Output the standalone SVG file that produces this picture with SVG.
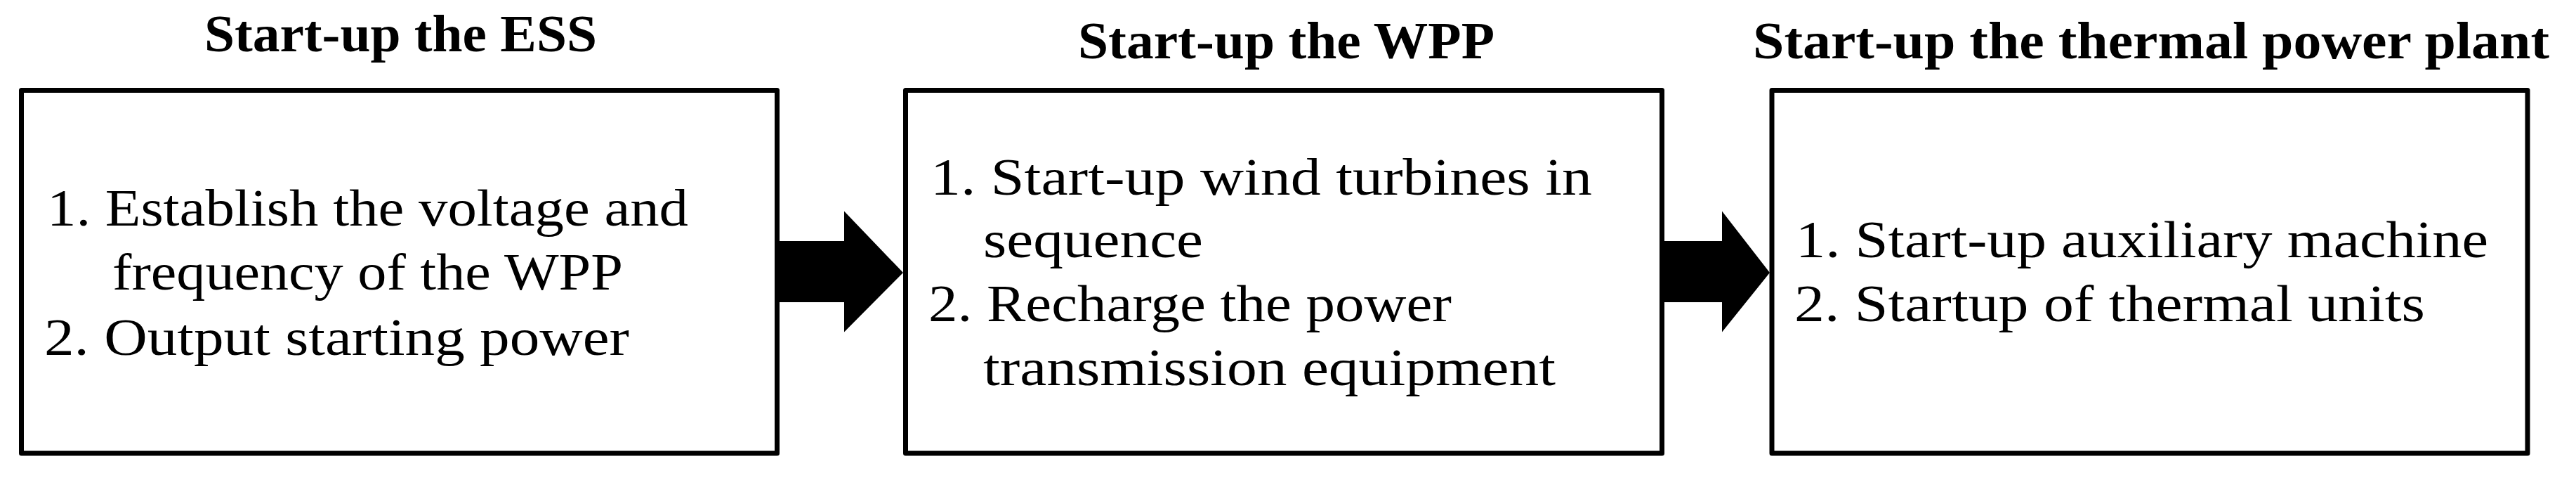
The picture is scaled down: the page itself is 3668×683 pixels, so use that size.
<svg xmlns="http://www.w3.org/2000/svg" width="3668" height="683" viewBox="0 0 3668 683">
<style>
.box{fill:#ffffff;stroke:#000000;stroke-width:7;stroke-linejoin:round}
.title{font-family:"Liberation Serif","Times New Roman",serif;font-weight:bold;font-size:74px;fill:#000000}
.body{font-family:"Liberation Serif","Times New Roman",serif;font-size:73px;fill:#000000}
.arrow{fill:#000000;stroke:none}
</style>
<rect width="3668" height="683" fill="#ffffff"/>
<g id="node-ess">
<rect class="box" x="30.5" y="128.5" width="1076" height="516.5"/>
<text class="title" x="291" y="72.5" textLength="559" lengthAdjust="spacingAndGlyphs">Start-up the ESS</text>
<text class="body" x="67" y="321" textLength="913" lengthAdjust="spacingAndGlyphs">1. Establish the voltage and</text>
<text class="body" x="160" y="412" textLength="727" lengthAdjust="spacingAndGlyphs">frequency of the WPP</text>
<text class="body" x="63" y="505" textLength="833" lengthAdjust="spacingAndGlyphs">2. Output starting power</text>
</g>
<g id="node-wpp">
<rect class="box" x="1289.5" y="128.5" width="1077" height="516.5"/>
<text class="title" x="1535" y="82.5" textLength="593" lengthAdjust="spacingAndGlyphs">Start-up the WPP</text>
<text class="body" x="1325" y="277" textLength="942" lengthAdjust="spacingAndGlyphs">1. Start-up wind turbines  in</text>
<text class="body" x="1400" y="366" textLength="313" lengthAdjust="spacingAndGlyphs">sequence</text>
<text class="body" x="1322" y="457" textLength="745" lengthAdjust="spacingAndGlyphs">2. Recharge the power</text>
<text class="body" x="1400" y="548" textLength="815" lengthAdjust="spacingAndGlyphs">transmission equipment</text>
</g>
<g id="node-thermal">
<rect class="box" x="2523" y="128.5" width="1076" height="516.5"/>
<text class="title" x="2496" y="82.5" textLength="1134" lengthAdjust="spacingAndGlyphs">Start-up the thermal power plant</text>
<text class="body" x="2557" y="366" textLength="986" lengthAdjust="spacingAndGlyphs">1. Start-up auxiliary  machine</text>
<text class="body" x="2555" y="457" textLength="898" lengthAdjust="spacingAndGlyphs">2. Startup of thermal  units</text>
</g>
<g id="connectors">
<polygon class="arrow" points="1106,343 1202,343 1202,300.5 1286,388 1202,472.5 1202,430 1106,430"/>
<polygon class="arrow" points="2366,343 2452,343 2452,300.5 2520,388 2452,472.5 2452,430 2366,430"/>
</g>
</svg>
